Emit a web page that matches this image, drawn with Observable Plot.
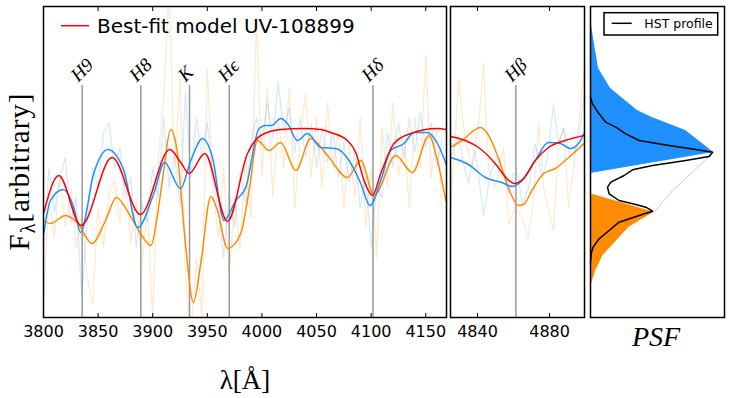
<!DOCTYPE html>
<html><head><meta charset="utf-8">
<script src="https://cdn.jsdelivr.net/npm/d3@7"></script>
<script src="https://cdn.jsdelivr.net/npm/@observablehq/plot@0.6"></script>
<style>
body{margin:0;background:#fff;}
#wrap{position:relative;width:730px;height:398px;overflow:hidden;}
#wrap > svg{position:absolute;}
</style></head><body><div id="wrap"></div>
<script>
// ---------- DATA ----------
// Spectral line markers
const markerNamesA = ["H9", "H8", "K", "Hϵ", "Hδ"];
const markerWavesA = [3835.4, 3889.1, 3933.7, 3970.1, 4101.7];
const markerNamesB = ["Hβ"];
const markerWavesB = [4861.3];
const markerTop = 232;
const ticksA = [3800, 3850, 3900, 3950, 4000, 4050, 4100, 4150];
const ticksB = [4840, 4880];

// Left panel: best-fit model (red)
const modelWaveA = [3800.3,3814.0,3834.4,3862.8,3888.8,3915.6,3925.7,3933.3,3947.7,3968.5,3986.8,3998.9,4017.3,4038.3,4053.9,4063.0,4078.3,4085.9,4093.5,4101.2,4108.8,4121.0,4136.3,4160.7,4169.2];
const modelFluxA = [105,142,92,160,103,168,155,144,164,96,164,182,188,189,188,185,177,165,137,122,144,174,184,189,188];
// Left panel: smoothed blue component
const blueWaveA = [3800.3,3806.4,3817.9,3827.7,3833.9,3846.0,3858.9,3873.5,3886.3,3901.0,3910.8,3925.4,3934.9,3945.6,3954.7,3965.3,3976.1,3985.2,3997.4,4003.5,4008.7,4017.3,4023.4,4032.5,4041.7,4053.9,4067.6,4079.8,4090.5,4099.0,4108.8,4117.9,4130.1,4139.3,4151.6,4160.7,4169.2];
const blueFluxA = [84,117,128,110,85,144,168,147,90,124,155,129,157,179,160,97,117,130,189,192,192,199,194,177,184,170,169,157,134,112,137,167,174,185,185,174,152];
// Left panel: smoothed orange component
const orangeWaveA = [3800.3,3806.4,3820.1,3830.8,3844.5,3856.8,3866.8,3878.1,3888.8,3898.5,3904.0,3910.1,3916.3,3922.3,3925.7,3930.3,3937.3,3944.0,3953.2,3959.3,3968.5,3980.6,3988.2,3995.9,4006.5,4017.3,4031.0,4044.7,4060.0,4078.3,4090.5,4102.7,4122.5,4137.8,4153.0,4160.7,4168.3];
const orangeFluxA = [97,94,102,95,74,97,120,104,84,72,100,147,188,167,127,70,15,54,121,107,69,84,127,177,167,175,147,179,162,140,157,122,162,145,182,157,117];
// Left panel: raw spectra (light)
const rawWaveA = [3800,3805,3810,3815,3820,3825,3830,3835,3840,3845,3850,3855,3860,3865,3870,3875,3880,3885,3890,3895,3900,3905,3910,3915,3920,3925,3930,3935,3940,3945,3950,3955,3960,3965,3970,3975,3980,3985,3990,3995,4000,4005,4010,4015,4020,4025,4030,4035,4040,4045,4050,4055,4060,4065,4070,4075,4080,4085,4090,4095,4100,4105,4110,4115,4120,4125,4130,4135,4140,4145,4150,4155,4160,4165];
const rawBlueA = [70,150,105,140,160,95,120,20,95,150,130,185,195,150,170,120,140,70,115,95,150,120,200,130,165,110,225,140,200,160,195,140,110,60,125,90,145,115,175,200,175,215,180,235,185,210,165,200,160,195,150,190,155,185,140,175,135,165,110,140,70,130,120,185,150,195,160,200,165,205,170,195,150,180];
const rawOrangeA = [20,120,80,140,90,130,70,105,40,14,110,70,125,137,95,150,75,120,50,110,0,160,217,330,150,240,40,-20,60,0,249,130,80,150,40,120,70,160,100,300,140,230,120,200,150,230,110,180,224,140,200,130,215,150,190,110,170,120,200,90,150,60,190,130,215,140,180,110,200,150,262,140,190,110];

// Middle panel (H-beta)
const modelWaveB = [4825.0,4833.2,4840.6,4849.8,4856.3,4860.4,4865.6,4872.1,4879.4,4888.7,4899.1];
const modelFluxB = [181,177,170,154,139,134,139,157,170,177,182];
const blueWaveB = [4825.0,4835.0,4844.3,4853.6,4859.1,4863.7,4872.1,4879.4,4885.9,4891.5,4896.1,4899.1];
const blueFluxB = [160,153,140,135,131,135,157,175,174,169,174,184];
const orangeWaveB = [4825.0,4831.3,4841.5,4845.2,4851.7,4858.2,4862.8,4865.6,4870.2,4876.7,4883.2,4890.6,4899.1];
const orangeFluxB = [170,177,190,185,159,125,112,113,127,144,149,160,174];
const rawOrangeWaveB = [4825.0,4829.5,4833.2,4836.9,4840.6,4843.4,4846.1,4849.8,4854.5,4857.2,4861.0,4864.7,4868.0,4871.1,4873.9,4876.7,4882.2,4885.0,4887.8,4890.6,4895.2,4899.1];
const rawOrangeB = [104,237,177,150,194,254,150,130,170,94,110,100,79,117,195,130,87,174,190,110,177,245];
const rawBlueWaveB = [4825.0,4829.5,4832.2,4835.0,4838.7,4843.4,4847.1,4850.8,4854.5,4857.2,4860.0,4862.4,4865.0,4868.4,4872.1,4875.8,4878.5,4882.2,4885.0,4887.8,4891.5,4895.2,4899.1];
const rawBlueB = [159,182,154,135,167,102,144,160,144,124,144,144,112,130,174,140,157,212,174,189,160,170,220];

// Right panel: PSF profiles (position along slit, amplitude)
const psfBluePos = [311,290,277,249,229,207,200,187,165,144];
const psfBlueAmp = [0,0.01,0.025,0.06,0.15,0.35,0.46,0.71,0.92,0];
const psfOrangePos = [123.7,105.3,90.3,62,47,30.3];
const psfOrangeAmp = [0,0.475,0.288,0.094,0.04,0];
const hstPos = [220,213.7,203.7,195.3,190.3,183.7,177,172,168,165.3,161,157,152,147.7,142,135.3,130.3,123.7,117,113,110.3,106.3,102,95.3,87,78.7,70.3,63.7,55];
const hstAmp = [0,0.015,0.064,0.114,0.189,0.263,0.363,0.587,0.786,0.91,0.885,0.711,0.463,0.314,0.251,0.152,0.127,0.139,0.213,0.338,0.413,0.463,0.363,0.213,0.139,0.064,0.019,0.005,0];
const sumPos = [165.3,125.3,105.3];
const sumAmp = [0.92,0.6,0.475];

// ---------- BUILD ----------
const zip = (xs, ys) => xs.map((x, i) => ({x, y: ys[i]}));
const BLUE = "#1e90ff", ORANGE = "#ff8c00", RED = "#ff0000";
const wrap = document.getElementById("wrap");
const baseStyle = {fontFamily: "DejaVu Sans", fontSize: "16px", color: "black", background: "transparent", overflow: "visible"};

function spectrumPanel({ticks, rawB, rawO, blue, orange, model, markers}) {
  return [
    Plot.line(rawO, {x: "x", y: "y", stroke: ORANGE, strokeOpacity: 0.2, strokeWidth: 1.2, clip: true}),
    Plot.line(rawB, {x: "x", y: "y", stroke: BLUE, strokeOpacity: 0.2, strokeWidth: 1.2, clip: true}),
    Plot.ruleX(markers, {x: "w", y1: 0, y2: markerTop, stroke: "#999", strokeWidth: 1.5}),
    Plot.text(markers, {x: "w", y: markerTop + 3, text: "name", rotate: -45, textAnchor: "start", lineAnchor: "bottom", fontFamily: "Liberation Serif", fontStyle: "italic", fontSize: 19, dx: -4, fill: "black"}),
    Plot.line(orange, {x: "x", y: "y", stroke: ORANGE, strokeWidth: 1.5, curve: "monotone-x", clip: true}),
    Plot.line(blue, {x: "x", y: "y", stroke: BLUE, strokeWidth: 1.5, curve: "monotone-x", clip: true}),
    Plot.line(model, {x: "x", y: "y", stroke: RED, strokeWidth: 1.5, curve: "monotone-x", clip: true}),
    Plot.axisX({anchor: "bottom", ticks, tickSize: 0, tickPadding: 8, tickFormat: "d", label: null}),
    Plot.axisX({anchor: "bottom", ticks, tickSize: 4, dy: -4, fill: "none", label: null}),
    Plot.axisX({anchor: "top", ticks, tickSize: 4, dy: 4, fill: "none", label: null}),
    Plot.frame({stroke: "black", strokeWidth: 1.5})
  ];
}

const p1 = Plot.plot({
  width: 450, height: 350, marginLeft: 43, marginRight: 4, marginTop: 6, marginBottom: 33,
  x: {domain: [3800, 4169], label: null}, y: {domain: [0, 311], axis: null},
  style: baseStyle,
  marks: spectrumPanel({
    ticks: ticksA,
    rawB: zip(rawWaveA, rawBlueA), rawO: zip(rawWaveA, rawOrangeA),
    blue: zip(blueWaveA, blueFluxA), orange: zip(orangeWaveA, orangeFluxA), model: zip(modelWaveA, modelFluxA),
    markers: markerWavesA.map((w, i) => ({w, name: markerNamesA[i]}))
  })
});
p1.style.left = "0px"; p1.style.top = "0px";
wrap.appendChild(p1);

const p2 = Plot.plot({
  width: 142, height: 350, marginLeft: 4, marginRight: 4, marginTop: 6, marginBottom: 33,
  x: {domain: [4825, 4899.4], label: null}, y: {domain: [0, 311], axis: null},
  style: baseStyle,
  marks: spectrumPanel({
    ticks: ticksB,
    rawB: zip(rawBlueWaveB, rawBlueB), rawO: zip(rawOrangeWaveB, rawOrangeB),
    blue: zip(blueWaveB, blueFluxB), orange: zip(orangeWaveB, orangeFluxB), model: zip(modelWaveB, modelFluxB),
    markers: markerWavesB.map((w, i) => ({w, name: markerNamesB[i]}))
  })
});
p2.style.left = "446px"; p2.style.top = "0px";
wrap.appendChild(p2);

const p3 = Plot.plot({
  width: 142, height: 350, marginLeft: 4, marginRight: 4, marginTop: 6, marginBottom: 33,
  x: {domain: [0, 1], axis: null}, y: {domain: [0, 311], axis: null},
  style: baseStyle,
  marks: [
    Plot.areaX(zip(psfBlueAmp, psfBluePos), {x: "x", y: "y", fill: BLUE}),
    Plot.areaX(zip(psfOrangeAmp, psfOrangePos), {x: "x", y: "y", fill: ORANGE}),
    Plot.lineX(zip(sumAmp, sumPos), {x: "x", y: "y", stroke: "#cccccc", strokeWidth: 1}),
    Plot.lineX(zip(hstAmp, hstPos), {x: "x", y: "y", stroke: "black", strokeWidth: 1.5}),
    Plot.frame({stroke: "black", strokeWidth: 1.5})
  ]
});
p3.style.left = "586px"; p3.style.top = "0px";
wrap.appendChild(p3);

// Overlay: legends and axis titles
const ns = "http://www.w3.org/2000/svg";
const ov = document.createElementNS(ns, "svg");
ov.setAttribute("width", 730); ov.setAttribute("height", 398);
ov.style.left = "0px"; ov.style.top = "0px"; ov.style.pointerEvents = "none";
ov.innerHTML = `
  <line x1="61" y1="25.7" x2="89" y2="25.7" stroke="${RED}" stroke-width="1.5"/>
  <text x="97" y="32.7" font-family="DejaVu Sans" font-size="20">Best-fit model UV-108899</text>
  <text transform="translate(29,171.5) rotate(-90)" text-anchor="middle" font-family="Liberation Serif" font-size="29" letter-spacing="1">F<tspan font-size="20" dy="6">λ</tspan><tspan dy="-6">[arbitrary]</tspan></text>
  <text x="245" y="389" text-anchor="middle" font-family="Liberation Serif" font-size="27">λ[Å]</text>
  <text x="656" y="346" text-anchor="middle" font-family="Liberation Serif" font-style="italic" font-size="28">PSF</text>
  <rect x="604" y="12.7" width="113.7" height="22.3" fill="white" stroke="black" stroke-width="1.5"/>
  <line x1="611.7" y1="23.3" x2="631.7" y2="23.3" stroke="black" stroke-width="1.5"/>
  <text x="644.3" y="28" font-family="DejaVu Sans" font-size="12.5">HST profile</text>
`;
wrap.appendChild(ov);
</script>
</body></html>
